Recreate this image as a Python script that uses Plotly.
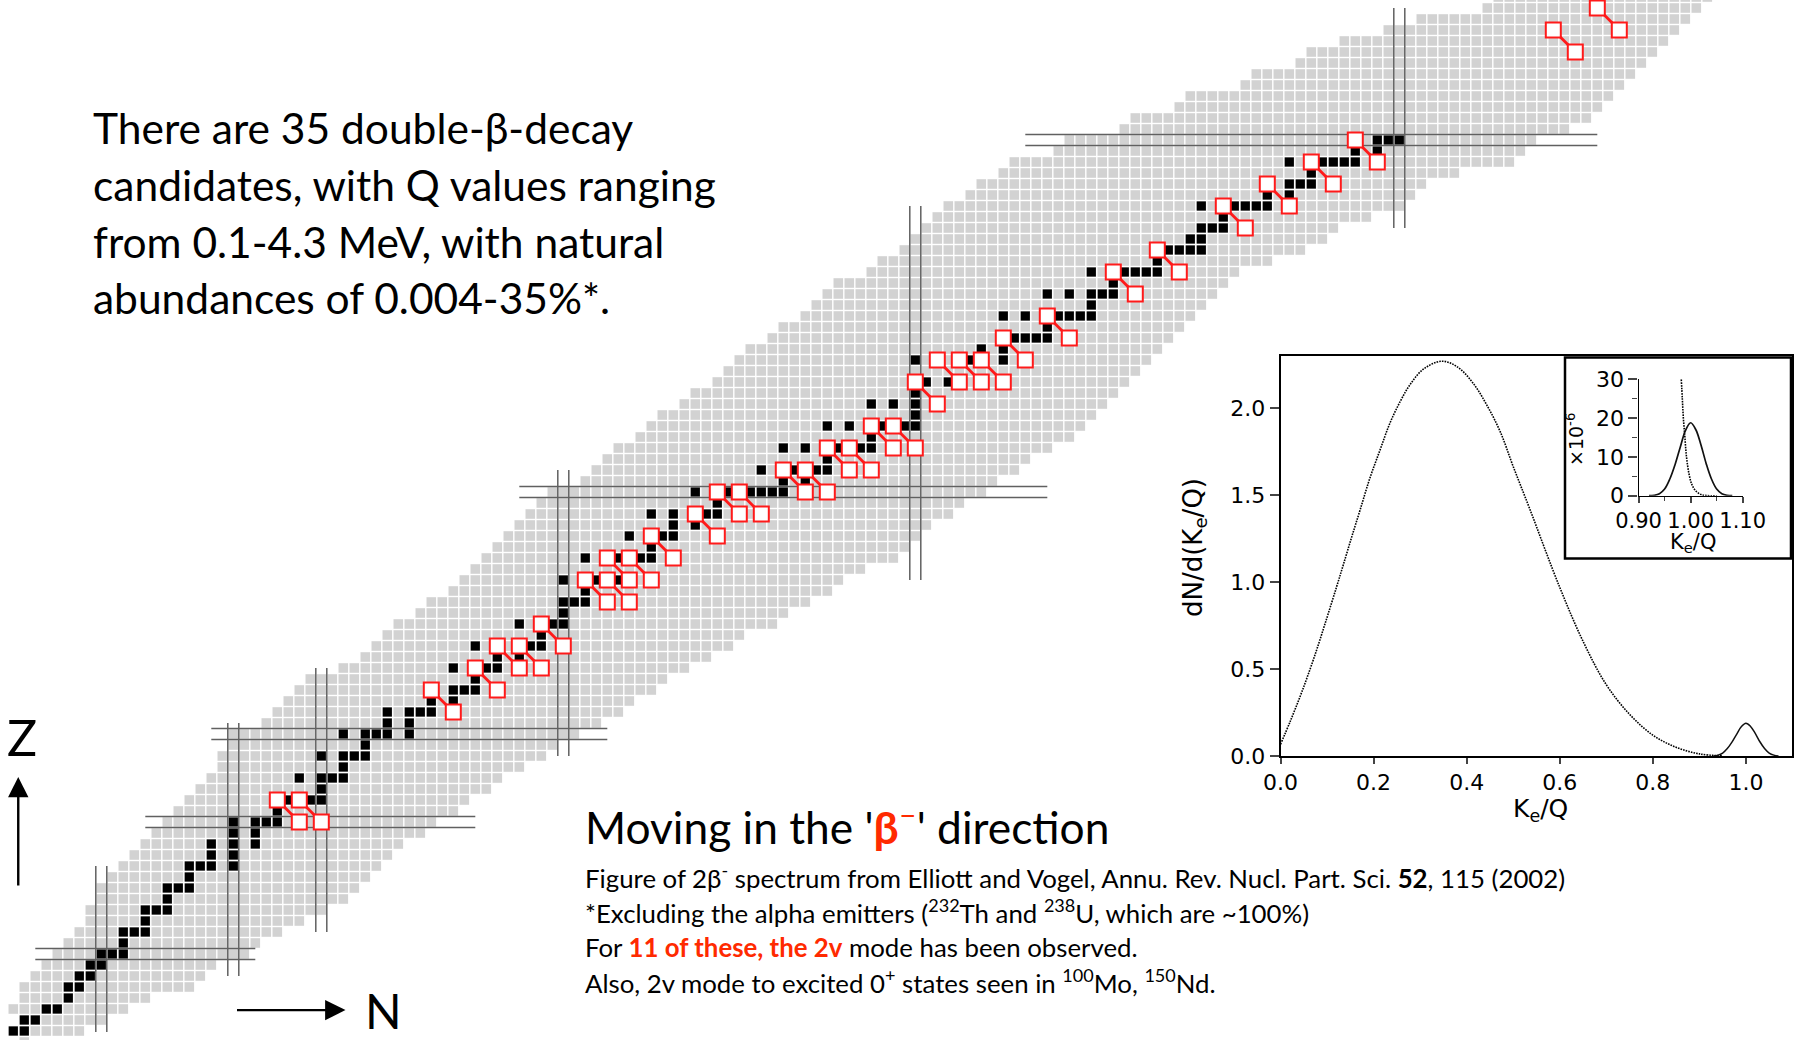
import plotly.graph_objects as go

W, H = 1798, 1040

# ---- nuclide chart data (N, Z) ----
gray_z = list(range(1, 96))
gray_left = [0,1,0,1,1,2,3,4,5,6,7,7,8,8,9,10,11,12,13,14,15,16,17,18,19,19,20,20,23,24,25,26,27,30,32,33,34,35,37,38,
             40,41,42,43,44,45,46,47,48,49,52,53,54,55,57,58,59,61,62,64,65,66,67,69,70,72,73,74,75,78,79,81,82,83,84,85,
             87,88,90,91,95,96,101,102,106,107,112,113,117,118,121,125,128,134,135]
gray_right = [6,8,10,12,16,17,18,21,22,24,26,28,30,31,32,33,34,35,37,38,40,41,43,44,46,48,49,51,53,55,56,58,59,61,63,65,
              66,69,70,72,74,75,77,80,81,82,83,85,86,88,89,91,92,94,96,97,98,99,100,101,102,103,104,105,106,107,108,109,
              110,111,114,117,119,120,123,126,127,128,131,136,137,138,141,143,144,145,146,147,148,149,150,151,152,153,154]

stable_by_z = {
    1:[0,1],2:[1,2],3:[3,4],4:[5],5:[5,6],6:[6,7],7:[7,8],8:[8,9,10],9:[10],10:[10,11,12],11:[12],12:[12,13,14],13:[14],
    14:[14,15,16],15:[16],16:[16,17,18,20],17:[18,20],18:[18,20,22],19:[20,22],20:[20,22,23,24],21:[24],22:[25,27,28],
    23:[28],24:[26,28,29,30],25:[30],26:[28,30,31,32],27:[32],28:[30,32,33,34,36],29:[34,36],30:[34,36,37,38],31:[38,40],
    32:[40,41,42],33:[42],34:[40,43,44],35:[44,46],36:[42,47,48],37:[48],38:[46,49,50],39:[50],40:[50,51,52],41:[52],
    42:[50,53,55],44:[52,55,57,58],45:[58],46:[56,59,60],47:[60,62],48:[58,60,63,64],49:[64],50:[62,65,67,68,69,70],
    51:[70,72],52:[68,71,73,74],53:[74],54:[70,72,75,77,78],55:[78],56:[74,76,79,81,82],57:[82],58:[78,80,82],59:[82],
    60:[83,85],62:[82,87,90],63:[88,90],64:[91,92,93,94],65:[94],66:[90,92,95,96,97,98],67:[98],68:[94,96,98,99,100],
    69:[100],70:[98,101,102,103,104],71:[104],72:[105,106,107,108],73:[107,108],74:[108,109,110],75:[110],
    76:[108,111,112,113,114],77:[114,116],78:[116,117,118],79:[118],80:[116,119,120,121,122],81:[122,124],82:[124,125,126],
}

daughter_n = [24,26,38,42,44,46,48,52,54,54,56,58,62,64,66,70,72,74,76,78,80,82,84,86,88,90,94,100,104,110,114,118,122,140,144]
daughter_z = [22,22,32,34,36,36,38,42,42,44,44,46,48,50,50,52,52,54,54,56,56,60,62,62,62,64,66,70,72,76,78,80,82,92,94]
parent_n = [26,28,40,44,46,48,50,54,56,56,58,60,64,66,68,72,74,76,78,80,82,84,86,88,90,92,96,102,106,112,116,120,124,142,146]
parent_z = [20,20,30,32,34,34,36,40,40,42,42,44,46,48,48,50,50,52,52,54,54,58,60,60,60,62,64,68,70,74,76,78,80,90,92]

magic_n = [8, 20, 28, 50, 82, 126]
magic_n_zlo = [0.9, 6, 10, 26, 42, 74]
magic_n_zhi = [16, 29, 34, 52, 76, 94]
magic_z = [8, 20, 28, 50, 82]
magic_z_nlo = [2, 12, 18, 46, 92]
magic_z_nhi = [22, 42, 54, 94, 144]

# ---- spectrum data ----
two_nu_x = [0,0.021,0.046,0.072,0.098,0.1207,0.135,0.153,0.171,0.192,0.214,0.235,0.257,0.278,0.307,0.346,0.379,0.414,0.443,
            0.472,0.5,0.535,0.6,0.65,0.7,0.75,0.8,0.85,0.9,0.95]
two_nu_y = [0.067,0.2,0.37,0.565,0.78,0.975,1.10,1.26,1.415,1.598,1.761,1.914,2.038,2.135,2.225,2.271,2.24,2.144,2.02,
            1.866,1.665,1.425,0.97,0.66,0.41,0.24,0.12,0.05,0.012,0.001]
zero_nu_x = [0.93,0.94,0.95,0.96,0.97,0.98,0.99,1.0,1.01,1.02,1.03,1.04,1.05,1.06,1.07]
zero_nu_y = [0.0,0.005,0.017,0.043,0.08,0.125,0.168,0.188,0.17,0.13,0.082,0.043,0.017,0.005,0.0]

inset_0nu_x = [0.92,0.93,0.94,0.95,0.96,0.97,0.98,0.99,1.0,1.01,1.02,1.03,1.04,1.05,1.06,1.07,1.08]
inset_0nu_y = [0,0.1,0.5,1.7,4.3,8.0,12.5,16.8,18.8,17.0,13.0,8.2,4.3,1.7,0.5,0.1,0]
inset_2nu_x = [0.982,0.984,0.986,0.989,0.992,0.997,1.002,1.01,1.02,1.03,1.05]
inset_2nu_y = [30,25,20,15,10,5.5,3,1.2,0.3,0.05,0]

main_xticks = [0,0.2,0.4,0.6,0.8,1.0]
main_yticks = [0,0.5,1.0,1.5,2.0]
inset_xticks = [0.9,1.0,1.1]
inset_yticks = [0,10,20,30]

# ---- texts ----
para_lines = ["There are 35 double-β-decay", "candidates, with Q values ranging",
              "from 0.1-4.3 MeV, with natural", "abundances of 0.004-35%*."]
title_text = "Moving in the '<span style='color:#ff2a00'><b>β</b><sup>–</sup></span>' direction"
note_lines = ["Figure of 2β<sup>-</sup> spectrum from Elliott and Vogel, Annu. Rev. Nucl. Part. Sci. <b>52</b>, 115 (2002)",
              "*Excluding the alpha emitters (<sup>232</sup>Th and <sup>238</sup>U, which are ~100%)",
              "For <span style='color:#ff2a00'><b>11 of these, the 2v</b></span> mode has been observed.",
              "Also, 2v mode to excited 0<sup>+</sup> states seen in <sup>100</sup>Mo, <sup>150</sup>Nd."]

TXT = "Lato"
TICK = "DejaVu Sans"
px = lambda v: v / W
py = lambda v: 1 - v / H

fig = go.Figure()

gx, gy = [], []
for z, a, b in zip(gray_z, gray_left, gray_right):
    for n in range(a, b + 1):
        gx.append(n); gy.append(z)
gx.append(1); gy.append(0)
fig.add_trace(go.Scatter(x=gx, y=gy, mode="markers", cliponaxis=True,
                         marker=dict(symbol="square", size=9.6, color="#d2d2d2", line=dict(width=0))))
bx, by = [], []
for z, ns in stable_by_z.items():
    for n in ns:
        bx.append(n); by.append(z)
fig.add_trace(go.Scatter(x=bx, y=by, mode="markers",
                         marker=dict(symbol="square", size=9.2, color="#000000", line=dict(width=0))))
lx, ly = [], []
for n, lo, hi in zip(magic_n, magic_n_zlo, magic_n_zhi):
    for d in (-0.5, 0.5):
        lx += [n + d, n + d, None]; ly += [lo, hi, None]
for z, lo, hi in zip(magic_z, magic_z_nlo, magic_z_nhi):
    for d in (-0.5, 0.5):
        lx += [lo, hi, None]; ly += [z + d, z + d, None]
fig.add_trace(go.Scatter(x=lx, y=ly, mode="lines", line=dict(color="#606060", width=1.5)))
cx, cy = [], []
for a, b, c, d in zip(daughter_n, daughter_z, parent_n, parent_z):
    cx += [a, c, None]; cy += [b, d, None]
fig.add_trace(go.Scatter(x=cx, y=cy, mode="lines", line=dict(color="#ff1a1a", width=2.8)))
fig.add_trace(go.Scatter(x=daughter_n + parent_n, y=daughter_z + parent_z, mode="markers",
                         marker=dict(symbol="square", size=15, color="white", line=dict(color="#ff1a1a", width=2))))

# spectrum
DOT = "1.6px,1.1px"
fig.add_trace(go.Scatter(x=two_nu_x, y=two_nu_y, xaxis="x2", yaxis="y2", mode="lines",
                         line=dict(color="#000", width=1.6, dash=DOT, shape="spline")))
fig.add_trace(go.Scatter(x=zero_nu_x, y=zero_nu_y, xaxis="x2", yaxis="y2", mode="lines",
                         line=dict(color="#111", width=1.5, shape="spline")))
fig.add_trace(go.Scatter(x=inset_2nu_x, y=inset_2nu_y, xaxis="x3", yaxis="y3", mode="lines",
                         line=dict(color="#000", width=1.6, dash=DOT, shape="spline")))
fig.add_trace(go.Scatter(x=inset_0nu_x, y=inset_0nu_y, xaxis="x3", yaxis="y3", mode="lines",
                         line=dict(color="#111", width=1.7, shape="spline")))

anns = []
def text(x, y, s, size, anchor="left", color="#000", family=TXT, angle=0):
    anns.append(dict(x=px(x), y=py(y), xref="paper", yref="paper", text=s, showarrow=False, xanchor=anchor,
                     yanchor="middle", textangle=angle, borderpad=0, font=dict(family=family, size=size, color=color)))

for s, b in zip(para_lines, [139.5, 196.5, 253, 309]):
    text(92, b - 12, s, 42.5)
text(584, 823, title_text, 44.3)
for s, b in zip(note_lines, [884, 919, 954.5, 988.5]):
    text(584, b - 8, s, 25.8)
text(22, 737, "Z", 50, "center", family="Lato")
text(383, 1010, "N", 48, "center", family="Lato")
text(1194, 548, "dN/d(K<sub>e</sub>/Q)", 26, "center", family=TICK, angle=-90)
text(1540, 810, "K<sub>e</sub>/Q", 25, "center", family=TICK)
text(1693, 543, "K<sub>e</sub>/Q", 21, "center", family=TICK)
text(1575, 440, "×10<sup>-6</sup>", 19, "center", family=TICK, angle=-90)

arrow = dict(xref="x", yref="y", axref="x", ayref="y", text="", showarrow=True, arrowhead=2, arrowsize=1.7,
             arrowwidth=2.4, arrowcolor="#000")
anns.append(dict(arrow, x=30.2, y=2.9, ax=20.2, ay=2.9))
anns.append(dict(arrow, x=0.45, y=24.1, ax=0.45, ay=14.1))

inset_box = dict(type="rect", xref="paper", yref="paper", x0=px(1565), x1=px(1791), y0=py(558.5), y1=py(357.5),
                 fillcolor="white", line=dict(color="#000", width=2.5), layer="below")

tickfont = dict(family=TICK, size=22, color="#000")
fig.update_layout(
    width=W, height=H, margin=dict(l=0, r=0, t=0, b=0, autoexpand=False), paper_bgcolor="white", plot_bgcolor="rgba(0,0,0,0)",
    showlegend=False, annotations=anns, shapes=[inset_box],
    xaxis=dict(domain=[0, 1], range=[-13.3 / 11, (W - 13.3) / 11], visible=False, fixedrange=True),
    yaxis=dict(domain=[0, 1], range=[2 / 11, 1042 / 11], visible=False, fixedrange=True),
    xaxis2=dict(domain=[px(1280.5), px(1792)], range=[0, 1.099], anchor="y2", tickvals=main_xticks,
                ticktext=["0.0", "0.2", "0.4", "0.6", "0.8", "1.0"], ticks="outside", ticklen=6, tickwidth=1.5,
                showline=True, linecolor="#000", linewidth=1.6, mirror=True, showgrid=False, zeroline=False,
                tickfont=tickfont),
    yaxis2=dict(domain=[py(756), py(355.7)], range=[0, 2.3026], anchor="x2", tickvals=main_yticks,
                ticktext=["0.0", "0.5", "1.0", "1.5", "2.0"], ticks="outside", ticklen=9, tickwidth=1.5,
                showline=True, linecolor="#000", linewidth=1.6, mirror=True, showgrid=False, zeroline=False,
                tickfont=tickfont),
    xaxis3=dict(domain=[px(1638.6), px(1742.7)], range=[0.9, 1.1], anchor="y3", tickvals=inset_xticks,
                ticktext=["0.90", "1.00", "1.10"], ticks="outside", ticklen=6, tickwidth=1.5,
                minor=dict(dtick=0.05, ticks="outside", ticklen=4, tickwidth=1.2, tick0=0.9),
                showline=True, linecolor="#000", linewidth=1.4, showgrid=False, zeroline=False,
                tickfont=dict(family=TICK, size=21, color="#000")),
    yaxis3=dict(domain=[py(495.7), py(379.3)], range=[0, 30], anchor="x3", tickvals=inset_yticks,
                ticks="outside", ticklen=9, tickwidth=1.5,
                minor=dict(dtick=5, ticks="outside", ticklen=5, tickwidth=1.2),
                showline=True, linecolor="#000", linewidth=1.4, showgrid=False, zeroline=False,
                tickfont=dict(family=TICK, size=22, color="#000")),
)

fig.write_html("out.html", post_script="document.body.style.margin='0';document.documentElement.style.overflow='hidden';",
               config={"displayModeBar": False})
